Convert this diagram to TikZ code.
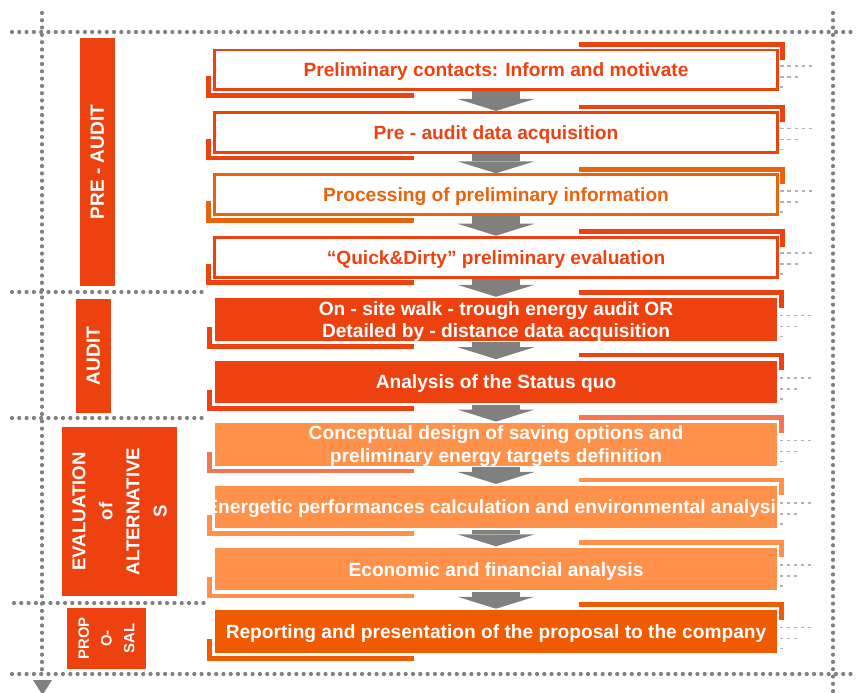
\documentclass[tikz,border=0pt]{standalone}
\usepackage{fontspec}
\setmainfont{Liberation Sans}
\usetikzlibrary{arrows.meta,positioning}

\definecolor{redor}{RGB}{238,65,16}
\definecolor{ora}{RGB}{234,98,12}
\definecolor{light}{RGB}{255,145,74}
\definecolor{salmon}{RGB}{243,118,84}
\definecolor{orfull}{RGB}{240,90,0}
\definecolor{flowgray}{RGB}{128,128,128}

\begin{document}
\begin{tikzpicture}[%
       x=0.02cm, y=-0.02cm,
       >={Triangle[width=43.8pt,length=6.8pt,line width=0pt]},
       node distance=1.248cm,
       on grid,
       font=\bfseries\fontsize{10.9}{13}\selectfont,
       phase/.style={fill=redor, text=white, rotate=90, align=center, inner sep=0pt},
       stepbox/.style={minimum width=11.28cm, minimum height=0.8cm, align=center, inner sep=0pt,
                       text depth=0pt},
       openbox/.style={stepbox, draw=#1, line width=1.7pt, fill=white, text=#1},
       fullbox/.style={stepbox, minimum height=0.88cm, draw=white, line width=0.9pt, fill=#1, text=white},
       trim/.style={draw=#1, line width=2.6pt},
       flow/.style={->, flowgray, line width=27.3pt},
       frame/.style={draw=flowgray, line width=2.4pt, line cap=round, dash pattern=on 0pt off 4.15pt},
       tick/.style={draw=gray!60, line width=0.9pt, dash pattern=on 1.8pt off 2.2pt}
     ]
     \useasboundingbox (0,0) rectangle (857,692);

     % dotted frame
     \draw[frame] (42,13) -- (42,676);
     \fill[flowgray] (33,680) -- (52,680) -- (42.5,695) -- cycle;
     \draw[frame] (833,13) -- (833,692);
     \draw[frame] (12,32) -- (857,32);
     \draw[frame] (12,292) -- (208,292);
     \draw[frame] (12,418) -- (207,418);
     \draw[frame] (14,603) -- (210,603);
     \draw[frame] (12,674) -- (857,674);

     % phases
     \node[phase, minimum width=4.96cm, minimum height=0.7cm] (pre) at (97.5,162) {PRE - AUDIT};
     \node[phase, minimum width=2.28cm, minimum height=0.7cm] (aud) at (93.5,356) {AUDIT};
     \node[phase, minimum width=3.38cm, minimum height=2.3cm,
           font=\bfseries\fontsize{10.6}{15.4}\selectfont] (eva) at (119.5,511.5)
           {EVALUATION\\of\\ALTERNATIVE\\S};
     \node[phase, minimum width=1.22cm, minimum height=1.58cm,
           font=\bfseries\fontsize{8.5}{13}\selectfont] (pro) at (106.5,638.5)
           {PROP\\O-\\SAL};

     % steps
     \node[openbox=redor]	(b1) at (496,70)	{Preliminary contacts: Inform and motivate};
     \node[openbox=redor]	(b2) [below of=b1]	{Pre - audit data acquisition};
     \node[openbox=ora]	(b3) [below of=b2]	{Processing of preliminary information};
     \node[openbox=redor]	(b4) [below of=b3]	{“Quick\&Dirty” preliminary evaluation};
     \node[fullbox=redor]	(b5) [below of=b4]	{On - site walk - trough energy audit OR\\Detailed by - distance data acquisition};
     \node[fullbox=redor]	(b6) [below of=b5]	{Analysis of the Status quo};
     \node[fullbox=light]	(b7) [below of=b6]	{Conceptual design of saving options and\\preliminary energy targets definition};
     \node[fullbox=light]	(b8) [below of=b7]	{\makebox[11.28cm]{Energetic performances calculation and environmental analysis}};
     \node[fullbox=light]	(b9) [below of=b8]	{Economic and financial analysis};
     \node[fullbox=orfull]	(b10) [below of=b9]	{Reporting and presentation of the proposal to the company};

     \foreach \n/\c in {1/redor,2/redor,3/ora,4/redor,5/redor,6/redor,7/salmon,8/light,9/light,10/orfull}{
       \draw[trim=\c] ([shift={(-4,-15)}]b\n.south west) -- ++(0,19) -- ++(205,0);
       \draw[trim=\c] ([shift={(-200,-4)}]b\n.north east) -- ++(203,0) -- ++(0,15);
       \draw[tick] ([shift={(1,-4)}]b\n.east) -- ++(33,0);
       \draw[tick] ([shift={(1,7)}]b\n.east) -- ++(19,0);
       \draw[tick] ([shift={(1,17)}]b\n.east) -- ++(3,0);
     }

     \draw[flow] (b1) -- (b2);
     \draw[flow] (b2) -- (b3);
     \draw[flow] (b3) -- (b4);
     \draw[flow] (b4) -- (b5);
     \draw[flow] (b5) -- (b6);
     \draw[flow] (b6) -- (b7);
     \draw[flow] (b7) -- (b8);
     \draw[flow] (b8) -- (b9);
     \draw[flow] (b9) -- (b10);
\end{tikzpicture}
\end{document}
